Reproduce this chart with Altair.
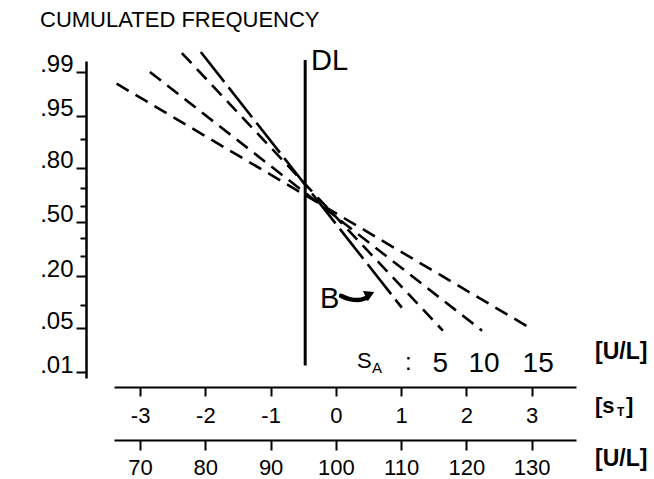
import altair as alt
import pandas as pd
from statistics import NormalDist

_N = NormalDist()


def probit(p):
    return _N.inv_cdf(p)


# ---------------- data ----------------
title_text = "CUMULATED FREQUENCY"

# y axis (cumulated frequency, probability scale)
p_major = [0.01, 0.05, 0.20, 0.50, 0.80, 0.95, 0.99]
p_major_labels = [".01", ".05", ".20", ".50", ".80", ".95", ".99"]
p_minor = [0.10, 0.30, 0.40, 0.60, 0.70, 0.90]

# x axes
sT_ticks = [-3, -2, -1, 0, 1, 2, 3]
ul_ticks = [70, 80, 90, 100, 110, 120, 130]

# straight lines on probability paper (s_T units, cumulated frequency)
sA_series = ["5", "10", "15"]
sA_x_start = [-2.36, -2.85, -3.36]
sA_x_end = [1.64, 2.24, 3.01]
sA_p_start = [0.9956, 0.990, 0.984]
sA_p_end = [0.046, 0.046, 0.048]
sA_label_x = [1.60, 2.27, 3.10]

B_x = [-2.07, 1.01]
B_p = [0.9958, 0.092]

DL_x = -0.47
DL_p = [0.994, 0.013]

arrow_x = [0.08, 0.21, 0.34, 0.46]
arrow_p = [0.126, 0.116, 0.113, 0.119]
arrow_head_x = [0.52]
arrow_head_p = [0.132]

# ---------------- layout ----------------
W, H = 462, 317
x_dom = [-3.40, 3.68]
ul_dom = [100 + 10 * x_dom[0], 100 + 10 * x_dom[1]]
y_dom = [-2.419, 2.496]
FONT = "Liberation Sans"

xs = alt.Scale(domain=x_dom, nice=False, zero=False)
ys = alt.Scale(domain=y_dom, nice=False, zero=False)
uls = alt.Scale(domain=ul_dom, nice=False, zero=False)

# y axis label expression
z_major = [probit(p) for p in p_major]
z_minor = [probit(p) for p in p_minor]
expr = "''"
for zv, lab in zip(z_major, p_major_labels):
    expr = f"abs(datum.value - ({zv:.5f})) < 0.001 ? '{lab}' : ({expr})"
minor_test = " || ".join(f"abs(datum.value - ({zv:.5f})) < 0.001" for zv in z_minor)

y_axis = alt.Axis(
    orient="left", offset=28, values=z_major + z_minor, labelExpr=expr,
    tickSize={"condition": {"test": minor_test, "value": 6}, "value": 10},
    tickWidth=2, tickColor="black", domainWidth=2.5, domainColor="black",
    labelFont=FONT, labelFontSize=24, labelColor="black", labelBaseline="alphabetic",
    labelAlign="right", labelPadding=3, labelOverlap=False, grid=False, title=None,
)
sT_axis = alt.Axis(
    orient="bottom", offset=9, values=sT_ticks, labelExpr="'' + datum.value",
    tickSize=9, tickWidth=2, tickColor="black", domainWidth=2, domainColor="black",
    labelFont=FONT, labelFontSize=22, labelColor="black", labelBaseline="alphabetic",
    labelPadding=26, labelFlush=False, labelOverlap=False, grid=False, title=None,
)
ul_axis = alt.Axis(
    orient="bottom", offset=62, values=ul_ticks, labelExpr="'' + datum.value",
    tickSize=10, tickWidth=2, tickColor="black", domainWidth=2, domainColor="black",
    labelFont=FONT, labelFontSize=22, labelColor="black", labelBaseline="alphabetic",
    labelPadding=24, labelFlush=False, labelOverlap=False, grid=False, title=None,
)

# ---------------- data frames ----------------
rows = []
for s, x0, x1, p0, p1 in zip(sA_series, sA_x_start, sA_x_end, sA_p_start, sA_p_end):
    rows.append({"s": s, "x": x0, "z": probit(p0), "o": 0})
    rows.append({"s": s, "x": x1, "z": probit(p1), "o": 1})
df_sa = pd.DataFrame(rows)
df_b = pd.DataFrame({"x": B_x, "z": [probit(p) for p in B_p], "o": [0, 1]})
df_dl = pd.DataFrame({"x": [DL_x], "z0": [probit(DL_p[0])], "z1": [probit(DL_p[1])]})
df_arrow = pd.DataFrame({"x": arrow_x, "z": [probit(p) for p in arrow_p], "o": list(range(len(arrow_x)))})
df_head = pd.DataFrame({"x": arrow_head_x, "z": [probit(p) for p in arrow_head_p]})
df_sal = pd.DataFrame({"x": sA_label_x, "t": sA_series})
df_ul = pd.DataFrame({"u": ul_ticks})

Y = lambda f: alt.Y(f, scale=ys, axis=y_axis)

# ---------------- layers ----------------
sa_lines = alt.Chart(df_sa).mark_line(
    color="black", strokeWidth=2.6, strokeDash=[14, 8]
).encode(
    x=alt.X("x:Q", scale=xs, axis=sT_axis),
    y=Y("z:Q"),
    detail="s:N", order="o:Q",
)
b_line = alt.Chart(df_b).mark_line(
    color="black", strokeWidth=2.6, strokeDash=[38, 7]
).encode(
    x=alt.X("x:Q", scale=xs, axis=None),
    y=Y("z:Q"),
    order="o:Q",
)
dl_rule = alt.Chart(df_dl).mark_rule(color="black", strokeWidth=3).encode(
    x=alt.X("x:Q", scale=xs, axis=None),
    y=Y("z0:Q"),
    y2="z1:Q",
)
arrow = alt.Chart(df_arrow).mark_line(
    color="black", strokeWidth=4.5, interpolate="monotone", strokeCap="round"
).encode(
    x=alt.X("x:Q", scale=xs, axis=None),
    y=Y("z:Q"),
    order="o:Q",
)
head = alt.Chart(df_head).mark_point(
    shape="triangle-right", filled=True, color="black", size=130, angle=335, opacity=1
).encode(
    x=alt.X("x:Q", scale=xs, axis=None),
    y=Y("z:Q"),
)
sa_labels = alt.Chart(df_sal).mark_text(
    font=FONT, fontSize=28, align="center", baseline="alphabetic", color="black"
).encode(
    x=alt.X("x:Q", scale=xs, axis=None),
    y=alt.value(311),
    text="t:N",
)


def txt(t, x, y, size, weight="normal", align="left"):
    return alt.Chart(pd.DataFrame({"t": [t]})).mark_text(
        font=FONT, fontSize=size, fontWeight=weight, align=align,
        baseline="alphabetic", color="black"
    ).encode(x=alt.value(x), y=alt.value(y), text="t:N")


annotations = [
    txt(title_text, -74, -34, 22),
    txt("DL", 197, 9, 29),
    txt("B", 206, 247, 29),
    txt("S", 243, 307, 22),
    txt("A", 258, 312, 15),
    txt(":", 291, 309, 24),
    txt("[U/L]", 481, 298, 23, "bold"),
    txt("[s", 481, 352, 22, "bold"),
    txt("T", 503, 355, 12, "bold"),
    txt("]", 512, 352, 22, "bold"),
    txt("[U/L]", 481, 405, 23, "bold"),
]

ul_layer = alt.Chart(df_ul).mark_tick(opacity=0).encode(
    x=alt.X("u:Q", scale=uls, axis=ul_axis),
)

chart = alt.layer(
    sa_lines, b_line, dl_rule, arrow, head, sa_labels, *annotations, ul_layer
).resolve_scale(x="independent").properties(
    width=W, height=H,
    autosize=alt.AutoSizeParams(type="none"),
    padding={"left": 114, "top": 61, "right": 78, "bottom": 101},
    background="white",
).configure_view(stroke=None)

chart.save("out.html", embed_options={"renderer": "svg", "actions": False})
